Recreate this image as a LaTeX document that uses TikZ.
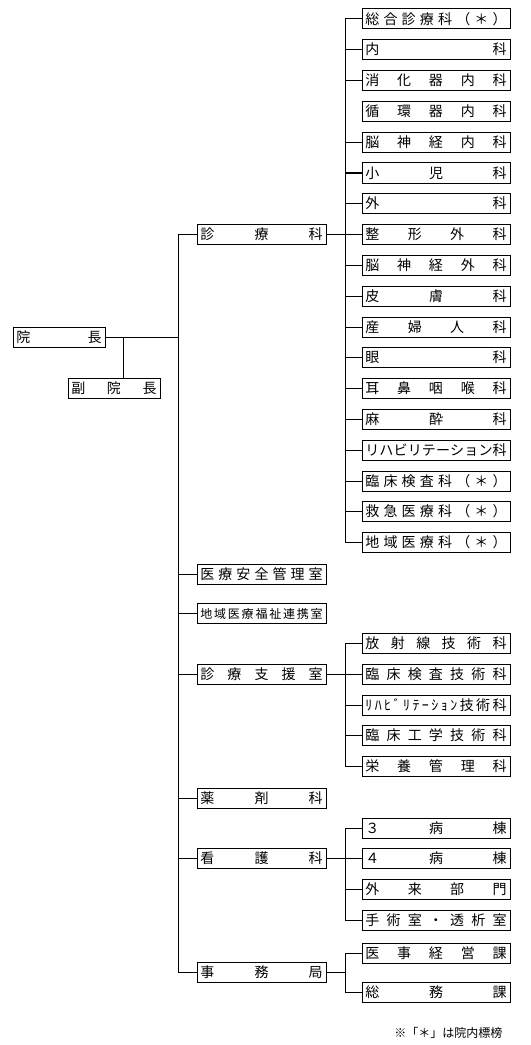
\documentclass[tikz,border=0pt]{standalone}
\usepackage{fontspec}
\setmainfont{Noto Sans CJK JP}
\usetikzlibrary{positioning}

\begin{document}
\begin{tikzpicture}[
  x=0.75pt, y=0.75pt,
  node distance=8.1pt,
  box/.style={draw, line width=0.75pt, outer sep=0pt, inner xsep=2.5pt, inner ysep=0pt, minimum height=15pt, text height=0.88em, text depth=0.12em, align=left, font=\fontsize{10.5}{12}\selectfont},
  head/.style={box, text width=64pt},
  unit/.style={box, text width=91.75pt},
  dept/.style={box, text width=106pt},
  link/.style={line width=0.75pt}
]
\useasboundingbox (0,0) rectangle (531,-1045);

% top
\node[head] (incho) at (59,-337) {院\hfill 長};
\node[head] (fuku) at (114,-388) {副\hfill 院\hfill 長};

% clinical departments
\node[dept] (sogo) at (436,-19) {総\hfill 合\hfill 診\hfill 療\hfill 科\hfill （\hfill ＊\hfill ）};
\node[dept, below=of sogo] (nai) {内\hfill 科};
\node[dept, below=of nai] (shoka) {消\hfill 化\hfill 器\hfill 内\hfill 科};
\node[dept, below=of shoka] (junkan) {循\hfill 環\hfill 器\hfill 内\hfill 科};
\node[dept, below=of junkan] (nounai) {脳\hfill 神\hfill 経\hfill 内\hfill 科};
\node[dept, below=of nounai] (shoni) {小\hfill 児\hfill 科};
\node[dept, below=of shoni] (geka) {外\hfill 科};
\node[dept, below=of geka] (seikei) {整\hfill 形\hfill 外\hfill 科};
\node[dept, below=of seikei] (nouge) {脳\hfill 神\hfill 経\hfill 外\hfill 科};
\node[dept, below=of nouge] (hifu) {皮\hfill 膚\hfill 科};
\node[dept, below=of hifu] (sanfu) {産\hfill 婦\hfill 人\hfill 科};
\node[dept, below=of sanfu] (gan) {眼\hfill 科};
\node[dept, below=of gan] (jibi) {耳\hfill 鼻\hfill 咽\hfill 喉\hfill 科};
\node[dept, below=of jibi] (masui) {麻\hfill 酔\hfill 科};
\node[dept, below=of masui] (riha) {リ\hfill ハ\hfill ビ\hfill リ\hfill テ\hfill ー\hfill シ\hfill ョ\hfill ン\hfill 科};
\node[dept, below=of riha] (kensa) {臨\hfill 床\hfill 検\hfill 査\hfill 科\hfill （\hfill ＊\hfill ）};
\node[dept, below=of kensa] (kyukyu) {救\hfill 急\hfill 医\hfill 療\hfill 科\hfill （\hfill ＊\hfill ）};
\node[dept, below=of kyukyu] (chiiki) {地\hfill 域\hfill 医\hfill 療\hfill 科\hfill （\hfill ＊\hfill ）};
\node[unit, left=27pt of seikei] (shinryo) {診\hfill 療\hfill 科};

% offices
\node[unit] (anzen) at (261.5,-574) {医\hfill 療\hfill 安\hfill 全\hfill 管\hfill 理\hfill 室};
\node[unit, font=\fontsize{9}{10}\selectfont] (renkei) at (261.5,-613) {地\hfill 域\hfill 医\hfill 療\hfill 福\hfill 祉\hfill 連\hfill 携\hfill 室};

% support
\node[dept] (hosha) at (436,-643.5) {放\hfill 射\hfill 線\hfill 技\hfill 術\hfill 科};
\node[dept, below=of hosha] (rinken) {臨\hfill 床\hfill 検\hfill 査\hfill 技\hfill 術\hfill 科};
\node[dept, below=of rinken] (rihagi) {ﾘ\hfill ﾊ\hfill ﾋ\hfill ﾞ\hfill ﾘ\hfill ﾃ\hfill ｰ\hfill ｼ\hfill ｮ\hfill ﾝ\hfill 技\hfill 術\hfill 科};
\node[dept, below=of rihagi] (rinko) {臨\hfill 床\hfill 工\hfill 学\hfill 技\hfill 術\hfill 科};
\node[dept, below=of rinko] (eiyo) {栄\hfill 養\hfill 管\hfill 理\hfill 科};
\node[unit, left=27pt of rinken] (shien) {診\hfill 療\hfill 支\hfill 援\hfill 室};

\node[unit] (yakuzai) at (261.5,-798) {薬\hfill 剤\hfill 科};

% nursing
\node[dept] (byo3) at (436,-828) {３\hfill 病\hfill 棟};
\node[dept, below=of byo3] (byo4) {４\hfill 病\hfill 棟};
\node[dept, below=of byo4] (gairai) {外\hfill 来\hfill 部\hfill 門};
\node[dept, below=of gairai] (shujutsu) {手\hfill 術\hfill 室\hfill ・\hfill 透\hfill 析\hfill 室};
\node[unit, left=27pt of byo4] (kango) {看\hfill 護\hfill 科};

% administration
\node[unit] (jimu) at (261.5,-972) {事\hfill 務\hfill 局};
\node[dept] (iji) at (436,-953) {医\hfill 事\hfill 経\hfill 営\hfill 課};
\node[dept, below=14.25pt of iji] (somu) {総\hfill 務\hfill 課};

\node[anchor=east, font=\fontsize{9}{10}\selectfont] (note) at (507,-1033) {※「＊」は院内標榜};

% buses
\coordinate (vbus) at (123,0);
\coordinate (mbus) at (178,0);
\coordinate (sbus) at (345,0);

\draw[link] (incho.east) -- (mbus |- incho);
\draw[link] (vbus |- incho) -- (vbus |- fuku.north);
\draw[link] (mbus |- shinryo) -- (mbus |- jimu);
\draw[link] (mbus |- shinryo) -- (shinryo.west);
\draw[link] (mbus |- anzen) -- (anzen.west);
\draw[link] (mbus |- renkei) -- (renkei.west);
\draw[link] (mbus |- shien) -- (shien.west);
\draw[link] (mbus |- yakuzai) -- (yakuzai.west);
\draw[link] (mbus |- kango) -- (kango.west);
\draw[link] (mbus |- jimu) -- (jimu.west);

\draw[link] (shinryo.east) -- (sbus |- shinryo);
\draw[link] (sbus |- sogo) -- (sbus |- chiiki);
\draw[link] (sbus |- sogo) -- (sogo.west);
\draw[link] (sbus |- nai) -- (nai.west);
\draw[link] (sbus |- shoka) -- (shoka.west);
\draw[link] (sbus |- nounai) -- (nounai.west);
\draw[link] (sbus |- shoni) -- (shoni.west);
\draw[link] (sbus |- geka) -- (geka.west);
\draw[link] (sbus |- seikei) -- (seikei.west);
\draw[link] (sbus |- nouge) -- (nouge.west);
\draw[link] (sbus |- hifu) -- (hifu.west);
\draw[link] (sbus |- sanfu) -- (sanfu.west);
\draw[link] (sbus |- gan) -- (gan.west);
\draw[link] (sbus |- jibi) -- (jibi.west);
\draw[link] (sbus |- masui) -- (masui.west);
\draw[link] (sbus |- riha) -- (riha.west);
\draw[link] (sbus |- kensa) -- (kensa.west);
\draw[link] (sbus |- kyukyu) -- (kyukyu.west);
\draw[link] (sbus |- chiiki) -- (chiiki.west);

\draw[link] (shien.east) -- (sbus |- shien);
\draw[link] (sbus |- hosha) -- (sbus |- eiyo);
\draw[link] (sbus |- hosha) -- (hosha.west);
\draw[link] (sbus |- rinken) -- (rinken.west);
\draw[link] (sbus |- rihagi) -- (rihagi.west);
\draw[link] (sbus |- rinko) -- (rinko.west);
\draw[link] (sbus |- eiyo) -- (eiyo.west);

\draw[link] (kango.east) -- (sbus |- kango);
\draw[link] (sbus |- byo3) -- (sbus |- shujutsu);
\draw[link] (sbus |- byo3) -- (byo3.west);
\draw[link] (sbus |- byo4) -- (byo4.west);
\draw[link] (sbus |- gairai) -- (gairai.west);
\draw[link] (sbus |- shujutsu) -- (shujutsu.west);

\draw[link] (jimu.east) -- (sbus |- jimu);
\draw[link] (sbus |- iji) -- (sbus |- somu);
\draw[link] (sbus |- iji) -- (iji.west);
\draw[link] (sbus |- somu) -- (somu.west);
\end{tikzpicture}
\end{document}
